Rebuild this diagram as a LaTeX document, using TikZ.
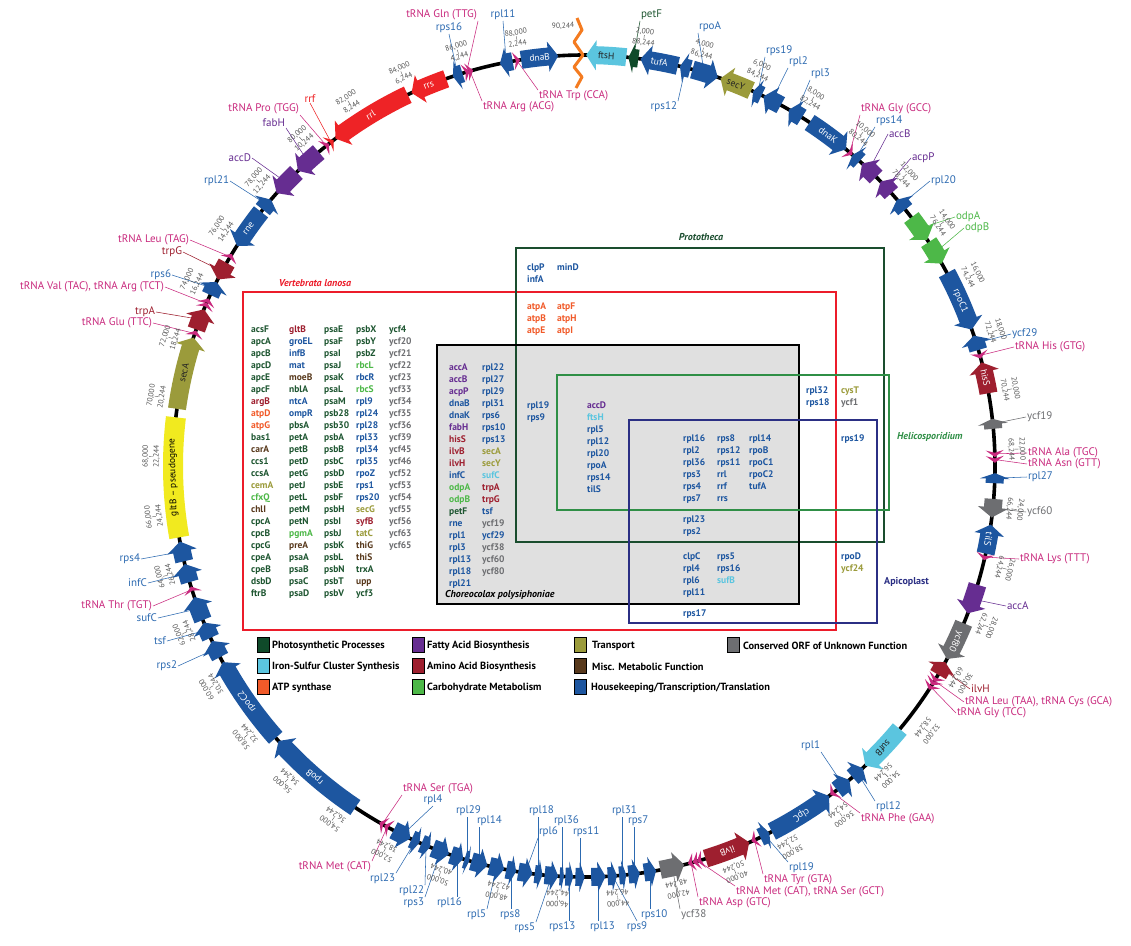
\documentclass[tikz,border=0pt]{standalone}
\usepackage{fontspec}
\setmainfont{PT Sans}
\usetikzlibrary{calc}
\definecolor{PG}{HTML}{1E5631}
\definecolor{PGS}{HTML}{0F4A2A}
\definecolor{FE}{HTML}{5BC5DF}
\definecolor{ATP}{HTML}{F15A29}
\definecolor{FA}{HTML}{662D91}
\definecolor{AA}{HTML}{9E1F2F}
\definecolor{CB}{HTML}{4DB848}
\definecolor{TR}{HTML}{9B9B3B}
\definecolor{MM}{HTML}{58391C}
\definecolor{HK}{HTML}{1D56A0}
\definecolor{HKL}{HTML}{2C6AB1}
\definecolor{ORF}{HTML}{6D6E71}
\definecolor{MAG}{HTML}{C92A7E}
\definecolor{RR}{HTML}{EE2326}
\definecolor{YEL}{HTML}{F1EA1F}
\definecolor{ORG}{HTML}{F47B20}
\definecolor{VRED}{HTML}{EC1C2A}
\definecolor{PGRN}{HTML}{1A4D2E}
\definecolor{HGRN}{HTML}{2F8F46}
\definecolor{APB}{HTML}{2B2F84}
\definecolor{GRY}{HTML}{E0E0E0}
\definecolor{TICK}{HTML}{555555}
\definecolor{DARK}{HTML}{222222}
\newcommand\gn[2]{\textcolor{#1}{#2}}
\newcommand\gcw[6]{%
  \pgfmathsetmacro\zA{#2-90}\pgfmathsetmacro\zB{#3-90}%
  \pgfmathsetmacro\zH{\zB-min(1.4,(#3-#2)*0.55)}%
  \pgfmathsetmacro\zM{(#2+#3)/2}%
  \fill[#4] (\zA:402) arc[start angle=\zA,end angle=\zH,radius=402] -- (\zH:396) -- (\zB:411) -- (\zH:426) -- (\zH:420) arc[start angle=\zH,end angle=\zA,radius=420] -- cycle;
  \node[gtext,text=#6,rotate=-\zM] (#1) at (\zM-90:411) {#5};}
\newcommand\gccw[6]{%
  \pgfmathsetmacro\zA{#2-90}\pgfmathsetmacro\zB{#3-90}%
  \pgfmathsetmacro\zH{\zA+min(1.4,(#3-#2)*0.55)}%
  \pgfmathsetmacro\zM{(#2+#3)/2}%
  \fill[#4] (\zB:402) arc[start angle=\zB,end angle=\zH,radius=402] -- (\zH:396) -- (\zA:411) -- (\zH:426) -- (\zH:420) arc[start angle=\zH,end angle=\zB,radius=420] -- cycle;
  \node[gtext,text=#6,rotate=-\zM] (#1) at (\zM-90:411) {#5};}
\newcommand\gbx[6]{%
  \pgfmathsetmacro\zA{#2-90}\pgfmathsetmacro\zB{#3-90}%
  \pgfmathsetmacro\zM{(#2+#3)/2}%
  \fill[#4] (\zA:401) arc[start angle=\zA,end angle=\zB,radius=401] -- (\zB:421) arc[start angle=\zB,end angle=\zA,radius=421] -- cycle;
  \node[gtext,text=#6,rotate=-\zM] (#1) at (\zM-90:411) {#5};}
\newcommand\tmk[3]{%
  \pgfmathsetmacro\zA{#2-90}%
  \fill[#3] (\zA-0.5:402) -- (\zA+0.45:411) -- (\zA-0.5:420) -- (\zA-0.15:411) -- cycle;
  \coordinate (#1) at (\zA:411);}
\newcommand\lab[7]{%
  \node[lbl,text=#6,anchor=#3] (#1) at (#4,#5) {#7};
  \coordinate (#1g) at ($(ctr)+(#2-90:411)$);
  \draw[leader,draw=#6] (#1g) -- (#1.#3);}
\newcommand\labv[7]{%
  \node[lbl,text=#6,anchor=#3] (#1) at (#4,#5) {#7};
  \coordinate (#1g) at ($(ctr)+(#2-90:411)$);
  \draw[leader,draw=#6] (#1g) -- (#1g |- #1.#3);}
\begin{document}
\begin{tikzpicture}[x=1pt,y=-1pt,
  lst/.style={font=\bfseries\fontsize{9.5}{12}\selectfont, align=left, anchor=north west, inner sep=0pt},
  boxlab/.style={font=\bfseries\itshape\fontsize{10}{12}\selectfont, inner sep=0pt},
  legsq/.style={draw=black, line width=0.6pt, minimum width=12pt, minimum height=15pt, inner sep=0pt},
  legtx/.style={font=\bfseries\fontsize{10.4}{12}\selectfont, anchor=west, inner sep=0pt},
  gtext/.style={font=\fontsize{9.5}{10}\selectfont, inner sep=0pt},
  lbl/.style={font=\fontsize{11}{13}\selectfont, inner sep=0.8pt},
  leader/.style={line width=0.55pt},
  tick/.style={font=\fontsize{7.6}{11}\selectfont, text=TICK, align=center, inner sep=0pt}]
\fill[white] (0,0) rectangle (1131,945);
\useasboundingbox (0,0) rectangle (1131,945);
\coordinate (ctr) at (584,466);
% ---------------- Venn boxes
\fill[GRY] (437,345) rectangle (799,604);
\draw[VRED, line width=2pt] (243,292) rectangle (836,630);
\draw[PGRN, line width=2pt] (516,248) rectangle (884,542);
\draw[black, line width=2.2pt] (437,345) rectangle (799,604);
\draw[HGRN, line width=2pt] (557,375) rectangle (889,510);
\draw[APB, line width=2pt] (629,420) rectangle (877,623);
\node[boxlab, text=VRED] (bV) at (315,283) {Vertebrata lanosa};
\node[boxlab, text=PGRN] (bP) at (701,237) {Prototheca};
\node[boxlab, text=black, anchor=west] (bC) at (445,595) {Choreocolax polysiphoniae};
\node[boxlab, text=HGRN, anchor=west] (bH) at (897,437) {Helicosporidium};
\node[boxlab, text=APB, anchor=west, font=\bfseries\fontsize{10}{12}\selectfont] (bA) at (884,582) {Apicoplast};
% ---------------- lists
\node[lst,text=PG] (v1) at (251,325.5) {acsF\\apcA\\apcB\\apcD\\apcE\\apcF\\\gn{AA}{argB}\\\gn{ATP}{atpD}\\\gn{ATP}{atpG}\\bas1\\\gn{MM}{carA}\\ccs1\\ccsA\\\gn{TR}{cemA}\\\gn{CB}{cfxQ}\\\gn{MM}{chlI}\\cpcA\\cpcB\\cpcG\\cpeA\\cpeB\\dsbD\\ftrB};
\node[lst,text=PG] (v2) at (289,325.5) {\gn{AA}{gltB}\\\gn{HK}{groEL}\\\gn{HK}{infB}\\\gn{HK}{mat}\\\gn{MM}{moeB}\\nblA\\\gn{HK}{ntcA}\\\gn{HK}{ompR}\\pbsA\\petA\\petB\\petD\\petG\\petJ\\petL\\petM\\petN\\\gn{CB}{pgmA}\\\gn{MM}{preA}\\psaA\\psaB\\psaC\\psaD};
\node[lst,text=PG] (v3) at (324,325.5) {psaE\\psaF\\psaI\\psaJ\\psaK\\psaL\\psaM\\psb28\\psb30\\psbA\\psbB\\psbC\\psbD\\psbE\\psbF\\psbH\\psbI\\psbJ\\psbK\\psbL\\psbN\\psbT\\psbV};
\node[lst,text=HK] (v4) at (356,325.5) {\gn{PG}{psbX}\\\gn{PG}{psbY}\\\gn{PG}{psbZ}\\\gn{CB}{rbcL}\\rbcR\\\gn{CB}{rbcS}\\rpl9\\rpl24\\rpl28\\rpl33\\rpl34\\rpl35\\rpoZ\\rps1\\rps20\\\gn{TR}{secG}\\\gn{AA}{syfB}\\\gn{TR}{tatC}\\\gn{MM}{thiG}\\\gn{MM}{thiS}\\\gn{PG}{trxA}\\\gn{MM}{upp}\\\gn{PG}{ycf3}};
\node[lst,text=ORF] (v5) at (389,325.5) {\gn{PG}{ycf4}\\ycf20\\ycf21\\ycf22\\ycf23\\ycf33\\ycf34\\ycf35\\ycf36\\ycf39\\ycf45\\ycf46\\ycf52\\ycf53\\ycf54\\ycf55\\ycf56\\ycf63\\ycf65};
\node[lst,text=HK] (p1) at (527,263.5) {clpP\\infA};
\node[lst,text=HK] (p2) at (557,263.5) {minD};
\node[lst,text=ATP] (a1) at (527,302.5) {atpA\\atpB\\atpE};
\node[lst,text=ATP] (a2) at (557,302.5) {atpF\\atpH\\atpI};
\node[lst,text=HK] (c1) at (449,363.5) {\gn{FA}{accA}\\\gn{FA}{accB}\\\gn{FA}{acpP}\\dnaB\\dnaK\\\gn{FA}{fabH}\\\gn{AA}{hisS}\\\gn{AA}{ilvB}\\\gn{AA}{ilvH}\\infC\\\gn{CB}{odpA}\\\gn{CB}{odpB}\\\gn{PG}{petF}\\rne\\rpl1\\rpl3\\rpl13\\rpl18\\rpl21};
\node[lst,text=HK] (c2) at (482,363.5) {rpl22\\rpl27\\rpl29\\rpl31\\rps6\\rps10\\rps13\\\gn{TR}{secA}\\\gn{TR}{secY}\\\gn{FE}{sufC}\\\gn{AA}{trpA}\\\gn{AA}{trpG}\\tsf\\\gn{ORF}{ycf19}\\ycf29\\\gn{ORF}{ycf38}\\\gn{ORF}{ycf60}\\\gn{ORF}{ycf80}};
\node[lst,text=HK] (h1) at (527,401.5) {rpl19\\rps9};
\node[lst,text=HK] (h2) at (587,401.5) {\gn{FA}{accD}\\\gn{FE}{ftsH}\\rpl5\\rpl12\\rpl20\\rpoA\\rps14\\tilS};
\node[lst,text=HK] (k1) at (683,434.5) {rpl16\\rpl2\\rpl36\\rps3\\rps4\\rps7};
\node[lst,text=HK] (k2) at (717,434.5) {rps8\\rps12\\rps11\\rrl\\rrf\\rrs};
\node[lst,text=HK] (k3) at (749,434.5) {rpl14\\rpoB\\rpoC1\\rpoC2\\tufA};
\node[lst,text=HK] (k4) at (683,515.5) {rpl23\\rps2};
\node[lst,text=HK] (k5) at (683,552.5) {clpC\\rpl4\\rpl6\\rpl11};
\node[lst,text=HK] (k6) at (717,552.5) {rps5\\rps16\\\gn{FE}{sufB}};
\node[lst,text=HK] (k7) at (683,609.5) {rps17};
\node[lst,text=HK] (r1) at (806,386.5) {rpl32\\rps18};
\node[lst,text=ORF] (r2) at (841,386.5) {\gn{TR}{cysT}\\ycf1};
\node[lst,text=HK] (r3) at (841,434.5) {rps19};
\node[lst,text=HK] (r4) at (841,552.5) {rpoD\\\gn{TR}{ycf24}};
% ---------------- legend
\node[legsq,fill=PGS] (s1) at (263,645) {};  \node[legtx] (t1) at (272,646) {Photosynthetic Processes};
\node[legsq,fill=FE] (s2) at (263,666) {};   \node[legtx] (t2) at (272,667) {Iron-Sulfur Cluster Synthesis};
\node[legsq,fill=ATP] (s3) at (263,687) {};  \node[legtx] (t3) at (272,688) {ATP synthase};
\node[legsq,fill=FA] (s4) at (418,645) {};   \node[legtx] (t4) at (427,646) {Fatty Acid Biosynthesis};
\node[legsq,fill=AA] (s5) at (418,666) {};   \node[legtx] (t5) at (427,667) {Amino Acid Biosynthesis};
\node[legsq,fill=CB] (s6) at (418,687) {};   \node[legtx] (t6) at (427,688) {Carbohydrate Metabolism};
\node[legsq,fill=TR] (s7) at (580,645) {};   \node[legtx] (t7) at (592,646) {Transport};
\node[legsq,fill=MM] (s8) at (580,666) {};   \node[legtx] (t8) at (592,667) {Misc. Metabolic Function};
\node[legsq,fill=HK] (s9) at (580,687) {};   \node[legtx] (t9) at (591,688) {Housekeeping/Transcription/Translation};
\node[legsq,fill=ORF] (s10) at (733,645) {}; \node[legtx] (t10) at (743,646) {Conserved ORF of Unknown Function};
% ---------------- backbone
\draw[line width=3.6pt] (ctr) circle[radius=411];
% ---------------- labels & leaders
\lab{LtGln}{343.4}{south east}{478}{21}{MAG}{tRNA Gln (TTG)}
\lab{Lrps16}{342.1}{south}{449}{34}{HKL}{rps16}
\lab{Lrpl11}{349.1}{south}{503}{21}{HKL}{rpl11}
\lab{LtArg}{343.9}{north west}{482}{101}{MAG}{tRNA Arg (ACG)}
\lab{LtTrp}{350.6}{north west}{538}{90}{MAG}{tRNA Trp (CCA)}
\lab{Lrrf}{322.0}{south}{310}{103}{RR}{rrf}
\lab{LtPro}{321.2}{south east}{300}{115}{MAG}{tRNA Pro (TGG)}
\lab{LfabH}{317.8}{south east}{286}{128}{FA}{fabH}
\lab{LaccD}{313.6}{east}{252}{158}{FA}{accD}
\lab{Lrpl21}{309.5}{east}{230}{181}{HKL}{rpl21}
\lab{LtLeu}{300.6}{east}{190}{240}{MAG}{tRNA Leu (TAG)}
\lab{LtrpG}{298.3}{east}{183}{252}{AA}{trpG}
\lab{Lrps6}{295.6}{east}{172}{275}{HKL}{rps6}
\lab{LtVal}{293.3}{east}{165}{287}{MAG}{tRNA Val (TAC), tRNA Arg (TCT)}
\lab{LtrpA}{290.9}{east}{156}{312}{AA}{trpA}
\lab{LtGlu}{288.8}{east}{153}{323}{MAG}{tRNA Glu (TTC)}
\lab{Lrps4}{258.0}{east}{141}{559}{HKL}{rps4}
\lab{LinfC}{254.9}{east}{148}{583}{HKL}{infC}
\lab{LtThr}{252.5}{east}{153}{606}{MAG}{tRNA Thr (TGT)}
\lab{LsufC}{249.7}{east}{158}{618}{HKL}{sufC}
\lab{Ltsf}{246.5}{east}{167}{641}{HKL}{tsf}
\lab{Lrps2}{243.6}{east}{178}{666}{HKL}{rps2}
\lab{LtSer}{209.4}{south west}{402}{795}{MAG}{tRNA Ser (TGA)}
\lab{Lrpl4}{206.2}{south}{433}{806}{HKL}{rpl4}
\lab{LtMet}{208.6}{north east}{372}{861}{MAG}{tRNA Met (CAT)}
\lab{Lrpl23}{204.2}{north east}{396}{873}{HKL}{rpl23}
\lab{Lrpl22}{202.6}{north east}{425}{885}{HKL}{rpl22}
\lab{Lrps3}{200.4}{north east}{425}{897}{HKL}{rps3}
\labv{Lrpl16}{198.0}{north west}{436}{897}{HKL}{rpl16}
\labv{Lrpl29}{196.5}{south west}{455}{817}{HKL}{rpl29}
\labv{Lrpl14}{194.7}{south west}{476}{827}{HKL}{rpl14}
\lab{Lrpl5}{192.3}{north east}{487}{909}{HKL}{rpl5}
\labv{Lrps8}{190.2}{north west}{499}{909}{HKL}{rps8}
\labv{Lrpl18}{186.4}{south west}{528}{817}{HKL}{rpl18}
\lab{Lrpl6}{188.2}{south west}{538}{838}{HKL}{rpl6}
\lab{Lrps5}{184.5}{north east}{536}{922}{HKL}{rps5}
\labv{Lrpl36}{183.1}{south west}{553}{827}{HKL}{rpl36}
\labv{Lrps13}{182.0}{north west}{548}{921}{HKL}{rps13}
\labv{Lrps11}{180.5}{south west}{572}{838}{HKL}{rps11}
\labv{Lrpl13}{178.0}{north west}{589}{921}{HKL}{rpl13}
\lab{Lrps9}{176.0}{north}{637}{921}{HKL}{rps9}
\labv{Lrpl31}{174.6}{south west}{611}{817}{HKL}{rpl31}
\labv{Lrps7}{173.0}{south west}{627}{827}{HKL}{rps7}
\labv{Lrps10}{170.7}{north west}{640}{909}{HKL}{rps10}
\lab{Lycf38}{167.6}{north west}{680}{909}{ORF}{ycf38}
\lab{LtAsp}{164.9}{north west}{698}{897}{MAG}{tRNA Asp (GTC)}
\lab{LtMetSer}{163.9}{north west}{735}{886}{MAG}{tRNA Met (CAT), tRNA Ser (GCT)}
\lab{LtTyr}{155.5}{north west}{763}{874}{MAG}{tRNA Tyr (GTA)}
\lab{Lrpl19}{153.9}{north west}{788}{862}{HKL}{rpl19}
\lab{LtPhe}{142.7}{north west}{860}{813}{MAG}{tRNA Phe (GAA)}
\lab{Lrpl12}{138.3}{north west}{875}{801}{HKL}{rpl12}
\lab{Lrpl1}{140.9}{south east}{821}{752}{HKL}{rpl1}
\lab{LilvH}{119.5}{west}{970}{689}{AA}{ilvH}
\lab{LtLeuCys}{121.5}{west}{964}{702}{MAG}{tRNA Leu (TAA), tRNA Cys (GCA)}
\lab{LtGlyTCC}{122.5}{west}{956}{713}{MAG}{tRNA Gly (TCC)}
\lab{LaccA}{108.9}{west}{1006}{606}{FA}{accA}
\lab{LtLys}{102.8}{west}{1019}{559}{MAG}{tRNA Lys (TTT)}
\lab{Lycf60}{95.9}{west}{1026}{512}{ORF}{ycf60}
\lab{Lrpl27}{91.7}{west}{1027}{477}{HKL}{rpl27}
\lab{LtAsn}{89.1}{west}{1027}{464}{MAG}{tRNA Asn (GTT)}
\lab{LtAla}{88.3}{west}{1027}{453}{MAG}{tRNA Ala (TGC)}
\lab{Lycf19}{84.1}{west}{1026}{417}{ORF}{ycf19}
\lab{LtHis}{74.4}{west}{1014}{347}{MAG}{tRNA His (GTG)}
\lab{Lycf29}{72.6}{west}{1011}{334}{HKL}{ycf29}
\lab{LodpB}{58.7}{west}{964}{228}{CB}{odpB}
\lab{LodpA}{54.7}{west}{955}{217}{CB}{odpA}
\lab{Lrpl20}{50.5}{west}{930}{181}{HKL}{rpl20}
\lab{LacpP}{47.3}{west}{911}{158}{FA}{acpP}
\lab{LaccB}{43.9}{west}{888}{134}{FA}{accB}
\lab{Lrps14}{41.4}{south west}{875}{127}{HKL}{rps14}
\lab{LtGlyGCC}{40.3}{south west}{860}{115}{MAG}{tRNA Gly (GCC)}
\lab{Lrpl3}{31.0}{south west}{810}{80}{HKL}{rpl3}
\lab{Lrpl2}{27.2}{south west}{788}{68}{HKL}{rpl2}
\lab{Lrps19}{25.0}{south west}{765}{57}{HKL}{rps19}
\lab{LrpoA}{17.0}{south west}{698}{33}{HKL}{rpoA}
\lab{Lrps12}{14.3}{north east}{678}{101}{HKL}{rps12}
\lab{LpetF}{6.9}{south west}{640}{21}{PG}{petF}
% ---------------- genes
\begin{scope}[shift={(584,466)}]
\gccw{ftsH}{0.3}{5.9}{FE}{ftsH}{DARK}
\gccw{petF}{6.2}{7.6}{PGS}{}{white}
\gccw{tufA}{7.9}{13.2}{HK}{tufA}{white}
\gccw{rps12}{13.5}{15.0}{HK}{}{white}
\gcw{rpoA}{15.3}{19.0}{HK}{}{white}
\gccw{secY}{19.4}{24.0}{TR}{secY}{DARK}
\gccw{rps19}{24.3}{25.6}{HK}{}{white}
\gccw{rpl2}{25.9}{28.6}{HK}{}{white}
\gccw{rpl3}{29.9}{32.0}{HK}{}{white}
\gcw{dnaK}{33.3}{39.6}{HK}{dnaK}{white}
\gccw{rps14}{40.8}{42.1}{HK}{}{white}
\gccw{accB}{42.6}{45.3}{FA}{}{white}
\gccw{acpP}{46.2}{48.4}{FA}{}{white}
\gccw{rpl20}{49.6}{51.4}{HK}{}{white}
\gcw{odpA}{52.8}{56.6}{CB}{}{white}
\gcw{odpB}{57.0}{60.5}{CB}{}{white}
\gcw{rpoC1}{62.0}{70.6}{HK}{rpoC1}{white}
\gccw{ycf29}{71.5}{73.6}{HK}{}{white}
\gccw{hisS}{75.4}{79.8}{AA}{hisS}{white}
\gccw{ycf19}{83.4}{84.8}{ORF}{}{white}
\gccw{rpl27}{91.0}{92.4}{HK}{}{white}
\gcw{ycf60}{94.6}{97.2}{ORF}{}{white}
\gccw{tilS}{98.2}{102.3}{HK}{tilS}{white}
\gcw{accA}{106.8}{111.0}{FA}{}{white}
\gcw{ycf80}{112.5}{118.0}{ORF}{ycf80}{white}
\gccw{ilvH}{118.5}{120.5}{AA}{}{white}
\gcw{sufB}{129.8}{136.8}{FE}{sufB}{DARK}
\gccw{rpl12}{137.3}{139.2}{HK}{}{white}
\gccw{rpl1}{139.8}{142.0}{HK}{}{white}
\gccw{clpC}{143.4}{152.8}{HK}{clpC}{white}
\gccw{rpl19}{153.2}{154.6}{HK}{}{white}
\gccw{ilvB}{156.3}{162.8}{AA}{ilvB}{white}
\gccw{ycf38}{165.9}{169.3}{ORF}{}{white}
\gccw{rps10}{169.9}{171.6}{HK}{}{white}
\gccw{rps7}{172.2}{173.8}{HK}{}{white}
\gccw{rpl31}{174.1}{175.1}{HK}{}{white}
\gccw{rps9}{175.4}{176.7}{HK}{}{white}
\gccw{rpl13}{177.0}{179.0}{HK}{}{white}
\gccw{rps11}{179.9}{181.2}{HK}{}{white}
\gccw{rps13}{181.5}{182.6}{HK}{}{white}
\gccw{rpl36}{182.8}{183.4}{HK}{}{white}
\gccw{rps5}{183.6}{185.5}{HK}{}{white}
\gccw{rpl18}{185.8}{186.9}{HK}{}{white}
\gccw{rpl6}{187.2}{189.2}{HK}{}{white}
\gccw{rps8}{189.5}{190.9}{HK}{}{white}
\gccw{rpl5}{191.2}{193.3}{HK}{}{white}
\gccw{rpl14}{193.6}{195.9}{HK}{}{white}
\gccw{rpl29}{196.2}{196.9}{HK}{}{white}
\gccw{rpl16}{197.1}{198.9}{HK}{}{white}
\gccw{rps3}{199.2}{201.6}{HK}{}{white}
\gccw{rpl22}{202.0}{203.3}{HK}{}{white}
\gccw{rpl23}{203.6}{204.8}{HK}{}{white}
\gccw{rpl4}{205.0}{207.6}{HK}{}{white}
\gcw{rpoB}{213.8}{228.0}{HK}{rpoB}{white}
\gcw{rpoC2}{228.6}{241.5}{HK}{rpoC2}{white}
\gcw{rps2}{242.3}{244.8}{HK}{}{white}
\gcw{tsf}{245.3}{247.6}{HK}{}{white}
\gcw{sufC}{248.0}{251.4}{HK}{}{white}
\gcw{infC}{253.6}{256.2}{HK}{}{white}
\gcw{rps4}{256.6}{259.4}{HK}{}{white}
\gbx{gltB}{260.0}{276.8}{YEL}{gltB -- pseudogene}{black}
\gcw{secA}{278.0}{288.2}{TR}{secA}{DARK}
\gcw{trpA}{289.4}{292.4}{AA}{}{white}
\gcw{rps6}{294.6}{296.6}{HK}{}{white}
\gccw{trpG}{297.0}{299.6}{AA}{}{white}
\gccw{rne}{302.4}{308.2}{HK}{rne}{white}
\gcw{rpl21}{308.6}{310.4}{HK}{}{white}
\gccw{accD}{311.6}{315.6}{FA}{}{white}
\gccw{fabH}{315.9}{319.8}{FA}{}{white}
\gccw{rrl}{322.8}{334.6}{RR}{rrl}{white}
\gccw{rrs}{335.2}{340.4}{RR}{rrs}{white}
\gccw{rps16}{341.4}{342.8}{HK}{}{white}
\gccw{rpl11}{348.2}{350.0}{HK}{}{white}
\gcw{dnaB}{351.2}{356.4}{HK}{dnaB}{white}
\tmk{tGlyGCC}{40.3}{MAG}
\tmk{tHis}{74.4}{MAG}
\tmk{tAla}{88.3}{MAG}
\tmk{tAsn}{89.1}{MAG}
\tmk{tLys}{102.8}{MAG}
\tmk{tLeuA}{121.2}{MAG}
\tmk{tCys}{121.8}{MAG}
\tmk{tGlyTCC}{122.5}{MAG}
\tmk{tPhe}{142.7}{MAG}
\tmk{tTyr}{155.5}{MAG}
\tmk{tSerB}{163.6}{MAG}
\tmk{tMetB}{164.2}{MAG}
\tmk{tAsp}{164.9}{MAG}
\tmk{tSerA}{208.6}{MAG}
\tmk{tMetA}{209.4}{MAG}
\tmk{tThr}{252.5}{MAG}
\tmk{tGlu}{288.8}{MAG}
\tmk{tVal}{293.0}{MAG}
\tmk{tArgB}{293.6}{MAG}
\tmk{tLeuB}{300.6}{MAG}
\tmk{tPro}{321.2}{MAG}
\tmk{rrfm}{322.0}{RR}
\tmk{tGln}{343.4}{MAG}
\tmk{tArgA}{343.9}{MAG}
\tmk{tTrp}{350.6}{MAG}
% ---------------- tick labels
\foreach \k/\p/\q in {1/{2,000}/{88,244},2/{4,000}/{86,244},3/{6,000}/{84,244},4/{8,000}/{82,244},5/{10,000}/{80,244},6/{12,000}/{78,244},7/{14,000}/{76,244},8/{16,000}/{74,244},9/{18,000}/{72,244},10/{20,000}/{70,244},11/{22,000}/{68,244},12/{24,000}/{66,244},13/{26,000}/{64,244},14/{28,000}/{62,244},15/{30,000}/{60,244},16/{32,000}/{58,244},17/{34,000}/{56,244},18/{36,000}/{54,244},19/{38,000}/{52,244},20/{40,000}/{50,244},21/{42,000}/{48,244},22/{44,000}/{46,244},23/{46,000}/{44,244},24/{48,000}/{42,244},25/{50,000}/{40,244},26/{52,000}/{38,244},27/{54,000}/{36,244},28/{56,000}/{34,244},29/{58,000}/{32,244},30/{60,000}/{30,244},31/{62,000}/{28,244},32/{64,000}/{26,244},33/{66,000}/{24,244},34/{68,000}/{22,244},35/{70,000}/{20,244},36/{72,000}/{18,244},37/{74,000}/{16,244},38/{76,000}/{14,244},39/{78,000}/{12,244},40/{80,000}/{10,244},41/{82,000}/{8,244},42/{84,000}/{6,244},43/{86,000}/{4,244},44/{88,000}/{2,244}}{
  \pgfmathsetmacro\tkA{\k*7.97837}
  \node[tick,rotate=-\tkA] (tk\k) at (\tkA-90:433) {\p\\\q};
  \draw[TICK, line width=0.4pt] (\tkA-90:431) -- (\tkA-90:435);
}
\end{scope}
% ---------------- origin marker
\draw[ORG, line width=3pt, line join=round] (577,18) -- (582,30) -- (574,42) -- (583,55) -- (574,67) -- (582,77) -- (576,88);
\node[tick, rotate=2] (t0) at (563,26) {90,244};
\end{tikzpicture}
\end{document}
